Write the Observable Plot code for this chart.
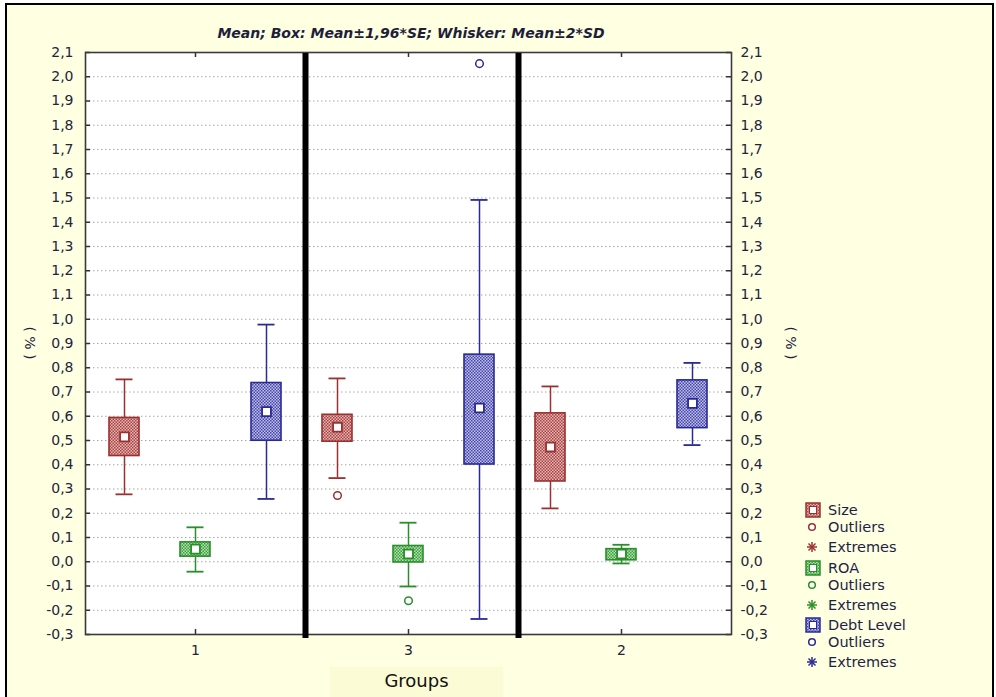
<!DOCTYPE html>
<html>
<head>
<meta charset="utf-8">
<script src="https://cdn.jsdelivr.net/npm/d3@7"></script>
<script src="https://cdn.jsdelivr.net/npm/@observablehq/plot@0.6"></script>
<style>
  html, body { margin: 0; padding: 0; background: #ffffff; }
  #wrap { position: relative; width: 996px; height: 697px; overflow: hidden; font-family: "DejaVu Sans", Verdana, sans-serif; }
  #bg { position: absolute; left: 5px; top: 3px; width: 989px; height: 720px; box-sizing: border-box; border: 2.5px solid #000; background: #ffffe1; }
  #chart { position: absolute; left: 0; top: 0; }
  .ov { position: absolute; color: #1e1e3c; white-space: nowrap; }
  #title { left: 0; width: 822px; top: 25px; text-align: center; font-weight: bold; font-style: italic; font-size: 14px; }
  .ylab { font-size: 14px; transform: translate(-50%, -50%) rotate(90deg); }
  #xlabbox { position: absolute; left: 330px; top: 667px; width: 173px; height: 32px; background: #fbfbd6; }
  #xlab { left: 330px; width: 173px; top: 670px; text-align: center; font-size: 18px; color: #111; }
  #legend { position: absolute; left: 804px; top: 0; }
  .lrow { position: absolute; left: 0; height: 18px; display: flex; align-items: center; font-size: 14.5px; color: #1e1e46; white-space: nowrap; }
  .lrow svg { display: block; margin-right: 6px; }
</style>
</head>
<body>
<div id="wrap">
  <div id="bg"></div>
  <div id="chart"></div>
  <div class="ov" id="title">Mean; Box: Mean±1,96*SE; Whisker: Mean±2*SD</div>
  <div class="ov ylab" style="left:30px; top:343px;">( % )</div>
  <div class="ov ylab" style="left:791px; top:343px;">( % )</div>
  <div id="xlabbox"></div>
  <div class="ov" id="xlab">Groups</div>
  <div id="legend"></div>
</div>
<script>
// ---- data ----
const groups = ["1", "3", "2"];
const series = ["Size", "ROA", "Debt Level"];

const sizeMean  = [0.515, 0.555, 0.473];
const sizeBoxLo = [0.436, 0.495, 0.331];
const sizeBoxHi = [0.593, 0.606, 0.612];
const sizeWhLo  = [0.278, 0.345, 0.220];
const sizeWhHi  = [0.752, 0.756, 0.723];

const roaMean  = [0.052, 0.032, 0.032];
const roaBoxLo = [0.021, -0.003, 0.006];
const roaBoxHi = [0.080, 0.065, 0.052];
const roaWhLo  = [-0.041, -0.102, -0.007];
const roaWhHi  = [0.142, 0.161, 0.070];

const debtMean  = [0.619, 0.634, 0.653];
const debtBoxLo = [0.499, 0.401, 0.551];
const debtBoxHi = [0.737, 0.854, 0.748];
const debtWhLo  = [0.259, -0.236, 0.481];
const debtWhHi  = [0.978, 1.492, 0.820];

const outlierGroup  = ["3", "3", "3"];
const outlierSeries = ["Size", "ROA", "Debt Level"];
const outlierValue  = [0.273, -0.161, 2.054];

const yTicks = d3.range(-3, 22).map(i => i / 10);
const legendLabels = ["Outliers", "Extremes"];

// ---- styles ----
const strokeOf = {"Size": "#9c3030", "ROA": "#2a8f2a", "Debt Level": "#2a2a96"};
const patOf = {"Size": "url(#patSize)", "ROA": "url(#patROA)", "Debt Level": "url(#patDebt)"};
const patDef = [
  {id: "patSize", light: "#e6b4b4", dark: "#a84444"},
  {id: "patROA", light: "#b6e0b6", dark: "#3a9e3a"},
  {id: "patDebt", light: "#c0c0ec", dark: "#4646aa"}
];

// ---- build table ----
const stats = {
  "Size": [sizeMean, sizeBoxLo, sizeBoxHi, sizeWhLo, sizeWhHi],
  "ROA": [roaMean, roaBoxLo, roaBoxHi, roaWhLo, roaWhHi],
  "Debt Level": [debtMean, debtBoxLo, debtBoxHi, debtWhLo, debtWhHi]
};
const rows = [];
series.forEach(s => groups.forEach((g, gi) => {
  const [m, bl, bh, wl, wh] = stats[s];
  rows.push({group: g, series: s, key: g + "|" + s, mean: m[gi], boxLo: bl[gi], boxHi: bh[gi], whLo: wl[gi], whHi: wh[gi]});
}));
const outliers = outlierValue.map((v, i) => ({key: outlierGroup[i] + "|" + outlierSeries[i], series: outlierSeries[i], value: v}));
const xDomain = groups.flatMap(g => series.map(s => g + "|" + s));
const xTickKeys = groups.map(g => g + "|" + series[1]);
const sepKeys = groups.slice(0, -1).map(g => g + "|" + series[series.length - 1]);

const W = 996, H = 697, mL = 85, mR = 265, mT = 52, mB = 63;
const pw = W - mL - mR, ph = H - mT - mB;
const fmt = d => d.toFixed(1).replace(".", ",");
const stroke = d => strokeOf[d.series];

const chart = Plot.plot({
  width: W, height: H,
  marginLeft: mL, marginRight: mR, marginTop: mT, marginBottom: mB,
  style: {background: "transparent", fontFamily: "DejaVu Sans, Verdana, sans-serif", fontSize: "14px", color: "#1e1e3c"},
  x: {type: "band", domain: xDomain, paddingInner: 0.582, paddingOuter: 0.291, axis: null},
  y: {domain: [-0.3, 2.1], axis: null},
  color: {type: "identity"},
  marks: [
    Plot.frame({fill: "white"}),
    Plot.gridY(yTicks.filter(t => t > -0.3 && t < 2.1), {stroke: "#a8a8a8", strokeOpacity: 1, strokeDasharray: "1.5,2.5"}),
    // whiskers
    Plot.ruleX(rows, {x: "key", y1: "whLo", y2: "whHi", stroke, strokeWidth: 1.5}),
    Plot.tickY(rows, {x: "key", y: "whLo", stroke, strokeWidth: 1.8, insetLeft: 6.5, insetRight: 6.5}),
    Plot.tickY(rows, {x: "key", y: "whHi", stroke, strokeWidth: 1.8, insetLeft: 6.5, insetRight: 6.5}),
    // boxes
    Plot.barY(rows, {x: "key", y1: "boxLo", y2: "boxHi", fill: d => patOf[d.series], stroke, strokeWidth: 1.6}),
    // means
    Plot.dot(rows, {x: "key", y: "mean", symbol: "square", r: 5, fill: "white", stroke, strokeWidth: 1.8}),
    // outliers
    Plot.dot(outliers, {x: "key", y: "value", r: 3.8, fill: "white", stroke, strokeWidth: 1.5}),
    // inward ticks
    Plot.tickY(yTicks, {y: d => d, insetRight: pw - 5, stroke: "#333", strokeWidth: 1.5}),
    Plot.tickY(yTicks, {y: d => d, insetLeft: pw - 5, stroke: "#333", strokeWidth: 1.5}),
    Plot.tickX(xTickKeys, {x: d => d, insetTop: ph - 5, stroke: "#333", strokeWidth: 1.5}),
    Plot.tickX(xTickKeys, {x: d => d, insetBottom: ph - 5, stroke: "#333", strokeWidth: 1.5}),
    Plot.frame({stroke: "#3a3a3a", strokeWidth: 1.6}),
    // group separators
    Plot.ruleX(sepKeys, {x: d => d, dx: 39, y1: 2.1, y2: -0.3, stroke: "black", strokeWidth: 6, insetBottom: -4, insetTop: 1}),
    // axes labels
    Plot.axisY(yTicks, {anchor: "left", tickSize: 0, tickPadding: 12, tickFormat: fmt, label: null, fill: "#23233c", fontSize: 14}),
    Plot.axisY(yTicks, {anchor: "right", tickSize: 0, tickPadding: 9, tickFormat: fmt, label: null, fill: "#23233c", fontSize: 14}),
    Plot.axisX(xTickKeys, {anchor: "bottom", tickSize: 0, tickPadding: 11, tickFormat: k => k.split("|")[0], label: null, fill: "#23233c", fontSize: 14})
  ]
});

// patterns
const defs = d3.select(chart).insert("defs", ":first-child");
patDef.forEach(p => {
  const pat = defs.append("pattern").attr("id", p.id).attr("patternUnits", "userSpaceOnUse").attr("width", 3).attr("height", 3);
  pat.append("rect").attr("width", 3).attr("height", 3).attr("fill", p.light);
  pat.append("rect").attr("x", 0).attr("y", 0).attr("width", 1.5).attr("height", 1.5).attr("fill", p.dark);
  pat.append("rect").attr("x", 1.5).attr("y", 1.5).attr("width", 1.5).attr("height", 1.5).attr("fill", p.dark);
});
document.getElementById("chart").appendChild(chart);

// legend
const legend = d3.select("#legend");
const rowTops = [510, 567.5, 625];
series.forEach((s, si) => {
  const y0 = rowTops[si];
  const items = [
    {type: "box", text: s, y: y0},
    {type: "circle", text: legendLabels[0], y: y0 + 17},
    {type: "star", text: legendLabels[1], y: y0 + 37}
  ];
  items.forEach(it => {
    const r = legend.append("div").attr("class", "lrow").style("top", (it.y - 9) + "px");
    const sv = r.append("svg").attr("width", 18).attr("height", 16);
    const c = strokeOf[s];
    if (it.type === "box") {
      sv.append("rect").attr("x", 2).attr("y", 1).attr("width", 14).attr("height", 14).attr("fill", patOf[s]).attr("stroke", c).attr("stroke-width", 1.5);
      sv.append("rect").attr("x", 5.5).attr("y", 4.5).attr("width", 7).attr("height", 7).attr("fill", "white").attr("stroke", c).attr("stroke-width", 1);
    } else if (it.type === "circle") {
      sv.append("circle").attr("cx", 8).attr("cy", 8).attr("r", 3.3).attr("fill", "white").attr("stroke", c).attr("stroke-width", 1.5);
    } else {
      const g = sv.append("g").attr("stroke", c).attr("stroke-width", 1.5);
      [[8, 3, 8, 13], [3, 8, 13, 8], [4.5, 4.5, 11.5, 11.5], [4.5, 11.5, 11.5, 4.5]].forEach(([x1, y1, x2, y2]) =>
        g.append("line").attr("x1", x1).attr("y1", y1).attr("x2", x2).attr("y2", y2));
    }
    r.append("span").text(it.text);
  });
});
</script>
</body>
</html>
